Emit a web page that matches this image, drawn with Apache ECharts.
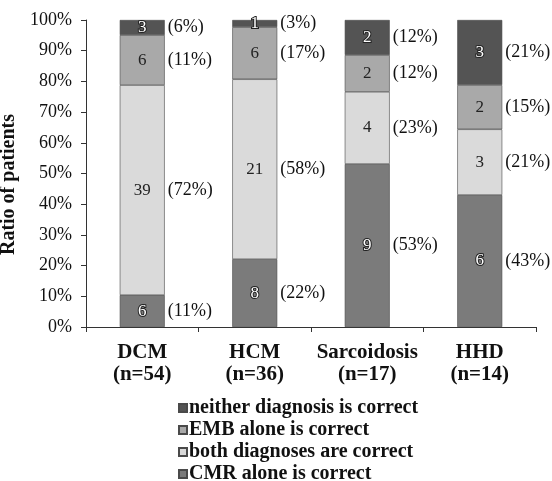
<!DOCTYPE html>
<html><head><meta charset="utf-8">
<script src="https://cdn.jsdelivr.net/npm/echarts@6/dist/echarts.min.js"></script>
<style>html,body{margin:0;padding:0;background:#fff}#c{width:552px;height:481px}</style>
</head><body><div id="c"></div>
<script>
const categories = ['DCM\n(n=54)', 'HCM\n(n=36)', 'Sarcoidosis\n(n=17)', 'HHD\n(n=14)'];
const seriesNames = ['CMR alone is correct', 'both diagnoses are correct', 'EMB alone is correct', 'neither diagnosis is correct'];
const yTicks = [0, 10, 20, 30, 40, 50, 60, 70, 80, 90, 100];
// drawn bar heights (% of patients)
const cmrValues = [10.4, 22.1, 53.1, 43.0];
const bothValues = [68.4, 58.6, 23.5, 21.4];
const embValues = [16.3, 17.0, 12.0, 14.4];
const neitherValues = [4.9, 2.3, 11.4, 21.2];
// printed counts and percentages
const cmrCounts = [6, 8, 9, 6];
const cmrPct = ['11%', '22%', '53%', '43%'];
const bothCounts = [39, 21, 4, 3];
const bothPct = ['72%', '58%', '23%', '21%'];
const embCounts = [6, 6, 2, 2];
const embPct = ['11%', '17%', '12%', '15%'];
const neitherCounts = [3, 1, 2, 3];
const neitherPct = ['6%', '3%', '12%', '21%'];

const FONT = "'Liberation Serif', 'Times New Roman', serif";
const colors = ['#7b7b7b', '#dadada', '#a9a9a9', '#545454'];
const darkLabel = [true, false, false, true];
const valuesList = [cmrValues, bothValues, embValues, neitherValues];
const countsList = [cmrCounts, bothCounts, embCounts, neitherCounts];
const pctList = [cmrPct, bothPct, embPct, neitherPct];

const series = [];
seriesNames.forEach((name, i) => {
  series.push({
    name: name,
    type: 'bar',
    stack: 'total',
    barWidth: 45,
    data: valuesList[i],
    itemStyle: { color: colors[i], borderColor: '#4a4a4a', borderWidth: 0.6 },
    label: {
      show: true,
      position: 'inside',
      formatter: p => String(countsList[i][p.dataIndex]),
      fontFamily: FONT, fontSize: 17,
      color: darkLabel[i] ? '#fff' : '#222',
      textBorderColor: darkLabel[i] ? '#222' : 'transparent',
      textBorderWidth: darkLabel[i] ? 2 : 0
    }
  });
});
// transparent overlay carrying the percentage labels to the right of each segment
seriesNames.forEach((name, i) => {
  series.push({
    name: name + ' %',
    type: 'bar',
    stack: 'pct',
    xAxisIndex: 1,
    barWidth: 45,
    data: valuesList[i],
    silent: true,
    itemStyle: { color: 'rgba(0,0,0,0)' },
    label: {
      show: true,
      position: 'right',
      distance: 3,
      formatter: p => '(' + pctList[i][p.dataIndex] + ')',
      fontFamily: FONT, fontSize: 18, color: '#111'
    }
  });
});

const chart = echarts.init(document.getElementById('c'), null, { renderer: 'canvas' });
chart.setOption({
  animation: false,
  backgroundColor: '#fff',
  grid: { left: 86, right: 16, top: 20, bottom: 154, containLabel: false, outerBoundsMode: 'none' },
  xAxis: [{
    type: 'category',
    data: categories,
    axisLine: { lineStyle: { color: '#333', width: 1 } },
    axisTick: { show: true, length: 5, lineStyle: { color: '#333' } },
    axisLabel: { interval: 0, fontFamily: FONT, fontWeight: 'bold', fontSize: 21, color: '#111', lineHeight: 22, margin: 15 }
  }, {
    type: 'category',
    data: categories,
    show: false
  }],
  yAxis: {
    type: 'value',
    min: 0, max: 100, interval: 10,
    name: 'Ratio of patients',
    nameLocation: 'middle',
    nameGap: 54,
    nameTextStyle: { fontFamily: FONT, fontWeight: 'bold', fontSize: 20, color: '#111', padding: [0, 22, 0, 0] },
    axisLine: { show: true, lineStyle: { color: '#333', width: 1 } },
    axisTick: { show: true, length: 5, lineStyle: { color: '#333' } },
    splitLine: { show: false },
    axisLabel: {
      fontFamily: FONT, fontSize: 18, color: '#111', margin: 14,
      formatter: v => (yTicks.indexOf(v) >= 0 ? v + '%' : '')
    }
  },
  legend: {
    orient: 'vertical',
    left: 173,
    top: 393,
    height: 100,
    itemWidth: 8,
    itemHeight: 8,
    itemGap: 2,
    icon: 'rect',
    data: ['neither diagnosis is correct', 'EMB alone is correct', 'both diagnoses are correct', 'CMR alone is correct'],
    textStyle: { fontFamily: FONT, fontWeight: 'bold', fontSize: 20, lineHeight: 19, color: '#111', padding: [0, 0, 0, -3] }
  },
  series: series
});
</script>
</body></html>
